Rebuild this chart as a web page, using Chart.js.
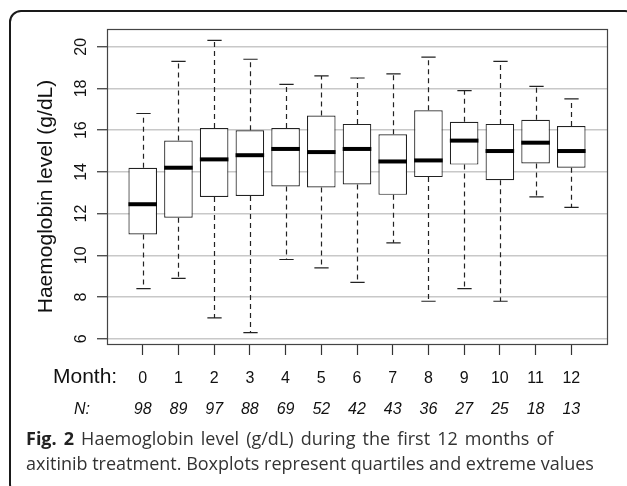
<!DOCTYPE html>
<html>
<head>
<meta charset="utf-8">
<script src="https://cdn.jsdelivr.net/npm/chart.js@4"></script>
<style>
  body { margin: 0; background: #fff; }
  #wrap { position: relative; width: 627px; height: 486px; overflow: hidden; }
  #frame {
    position: absolute; left: 9px; top: 10px; width: 628px; height: 486px;
    border: 2px solid #1a1a1a; border-radius: 12px; box-sizing: border-box;
  }
  #caption {
    position: absolute; left: 26px; top: 426px; width: 600px;
    font-family: "Open Sans", sans-serif; font-size: 18px; line-height: 24.5px;
    color: #333; white-space: nowrap;
  }
  #caption .l1 { word-spacing: 2.4px; }
  #caption b { color: #222; }
  canvas { position: absolute; left: 0; top: 0; }
</style>
</head>
<body>
<div id="wrap">
  <div id="frame"></div>
  <canvas id="myChart" width="627" height="486"></canvas>
  <div id="caption"><span class="l1"><b>Fig. 2</b> Haemoglobin level (g/dL) during the first 12 months of</span><br>axitinib treatment. Boxplots represent quartiles and extreme values</div>
</div>
<script>
const months = [0, 1, 2, 3, 4, 5, 6, 7, 8, 9, 10, 11, 12];
const whiskerLow = [8.4, 8.9, 7.0, 6.3, 9.8, 9.4, 8.7, 10.6, 7.8, 8.4, 7.8, 12.8, 12.3];
const q1 = [11.0, 11.8, 12.8, 12.85, 13.3, 13.25, 13.4, 12.9, 13.75, 14.35, 13.6, 14.4, 14.2];
const medians = [12.45, 14.2, 14.6, 14.8, 15.1, 14.95, 15.1, 14.5, 14.55, 15.5, 15.0, 15.4, 15.0];
const q3 = [14.2, 15.5, 16.1, 16.0, 16.1, 16.7, 16.3, 15.8, 16.95, 16.4, 16.3, 16.5, 16.2];
const whiskerHigh = [16.8, 19.3, 20.3, 19.4, 18.2, 18.6, 18.5, 18.7, 19.5, 17.9, 19.3, 18.1, 17.5];
const counts = [98, 89, 97, 88, 69, 52, 42, 43, 36, 27, 25, 18, 13];
const yTicks = [6, 8, 10, 12, 14, 16, 18, 20];

const FONT = '"Liberation Sans", Arial, sans-serif';

// whiskers under the boxes, medians + frame + texts on top
const boxplotPlugin = {
    id: "boxplot",
    beforeDatasetsDraw(chart) {
        const ctx = chart.ctx;
        const x = chart.scales.x, y = chart.scales.y;
        const meta = chart.getDatasetMeta(0);
        ctx.save();
        ctx.strokeStyle = "#222";
        ctx.lineWidth = 1.2;
        months.forEach((m, i) => {
            const px = Math.round(x.getPixelForValue(m)) + 0.5;
            const half = meta.data[i].width / 4;
            ctx.setLineDash([5, 4]);
            ctx.beginPath();
            ctx.moveTo(px, y.getPixelForValue(q3[i]));
            ctx.lineTo(px, y.getPixelForValue(whiskerHigh[i]));
            ctx.moveTo(px, y.getPixelForValue(q1[i]));
            ctx.lineTo(px, y.getPixelForValue(whiskerLow[i]));
            ctx.stroke();
            ctx.setLineDash([]);
            ctx.beginPath();
            ctx.moveTo(px - half, y.getPixelForValue(whiskerHigh[i]));
            ctx.lineTo(px + half, y.getPixelForValue(whiskerHigh[i]));
            ctx.moveTo(px - half, y.getPixelForValue(whiskerLow[i]));
            ctx.lineTo(px + half, y.getPixelForValue(whiskerLow[i]));
            ctx.stroke();
        });
        ctx.restore();
    },
    afterDatasetsDraw(chart) {
        const ctx = chart.ctx;
        const x = chart.scales.x, y = chart.scales.y;
        const meta = chart.getDatasetMeta(0);
        const area = chart.chartArea;
        ctx.save();
        ctx.strokeStyle = "#000";
        ctx.lineWidth = 4;
        months.forEach((m, i) => {
            const px = x.getPixelForValue(m);
            const half = meta.data[i].width / 2;
            const py = y.getPixelForValue(medians[i]);
            ctx.beginPath();
            ctx.moveTo(px - half, py);
            ctx.lineTo(px + half, py);
            ctx.stroke();
        });
        ctx.strokeStyle = "#444";
        ctx.lineWidth = 1.2;
        ctx.strokeRect(area.left + 0.5, area.top + 0.5, area.right - area.left, area.bottom - area.top);
        ctx.restore();
    },
    afterDraw(chart) {
        const ctx = chart.ctx;
        const x = chart.scales.x, y = chart.scales.y;
        ctx.save();
        ctx.fillStyle = "#111";

        // y tick labels, rotated like base R
        ctx.font = "16px " + FONT;
        ctx.textAlign = "center";
        ctx.textBaseline = "alphabetic";
        y.ticks.forEach((t, i) => {
            ctx.save();
            ctx.translate(86, y.getPixelForTick(i));
            ctx.rotate(-Math.PI / 2);
            ctx.fillText(String(t.value), 0, 0);
            ctx.restore();
        });

        // y title
        ctx.save();
        ctx.font = "21px " + FONT;
        ctx.translate(52, 196.5);
        ctx.rotate(-Math.PI / 2);
        ctx.fillText("Haemoglobin level (g/dL)", 0, 0);
        ctx.restore();

        // x labels and counts
        ctx.textAlign = "left";
        ctx.font = "21px " + FONT;
        ctx.fillText("Month:", 53, 382.5);
        ctx.font = "italic 16px " + FONT;
        ctx.fillText("N:", 74, 413.5);

        ctx.textAlign = "center";
        x.ticks.forEach((t, i) => {
            const px = x.getPixelForTick(i);
            ctx.font = "16px " + FONT;
            ctx.fillText(String(t.value), px, 382.5);
            ctx.font = "italic 16px " + FONT;
            ctx.fillText(String(counts[i]), px, 413.5);
        });
        ctx.restore();
    }
};

function drawChart() {
    const ctx = document.getElementById("myChart").getContext("2d");
    new Chart(ctx, {
        type: "bar",
        data: {
            datasets: [{
                label: "Haemoglobin",
                data: months.map((m, i) => ({ x: m, y: [q1[i], q3[i]] })),
                backgroundColor: "#fff",
                borderColor: "#222",
                borderWidth: 1.2,
                borderSkipped: false,
                barPercentage: 0.8,
                categoryPercentage: 1
            }]
        },
        options: {
            responsive: false,
            animation: false,
            devicePixelRatio: 1,
            layout: { padding: { left: 0, top: 29, right: 20, bottom: 0 } },
            plugins: { legend: { display: false }, tooltip: { enabled: false } },
            scales: {
                x: {
                    type: "linear",
                    offset: false,
                    min: -1,
                    max: 13,
                    afterBuildTicks: s => { s.ticks = months.map(v => ({ value: v })); },
                    afterFit: s => { s.height = 142; },
                    ticks: { display: false },
                    grid: { offset: false, drawOnChartArea: false, drawTicks: true, tickLength: 11, tickColor: "#333", tickWidth: 1.2 },
                    border: { display: false }
                },
                y: {
                    min: 5.75,
                    max: 20.85,
                    afterBuildTicks: s => { s.ticks = yTicks.map(v => ({ value: v })); },
                    afterFit: s => { s.width = 107; },
                    ticks: { display: false },
                    grid: { color: "#c8c8c8", lineWidth: 1.5, drawTicks: true, tickLength: 10, tickColor: "#333", tickWidth: 1.2 },
                    border: { display: false }
                }
            }
        },
        plugins: [boxplotPlugin]
    });
}

document.addEventListener("DOMContentLoaded", function () {
    drawChart();
});
</script>
</body>
</html>
